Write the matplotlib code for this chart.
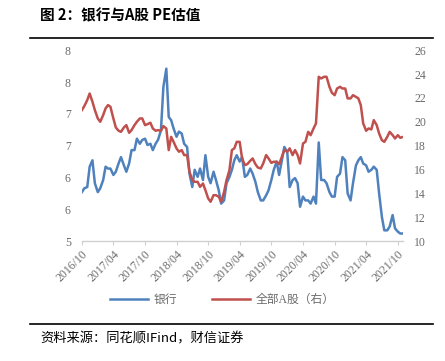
import matplotlib
matplotlib.use("Agg")
import matplotlib.pyplot as plt
import numpy as np
import pandas as pd

plt.rcParams['font.family'] = ['Noto Sans CJK SC', 'DejaVu Sans']

# semi-monthly readings, 2016/10 .. 2021/11
dates = pd.date_range('2016-10-01', periods=123, freq='SMS')

bank_pe = [
    5.77, 5.83, 5.85, 6.17, 6.27, 5.91, 5.77, 5.83, 5.96, 6.17,
    6.14, 6.14, 6.04, 6.09, 6.22, 6.32, 6.19, 6.09, 6.22, 6.43,
    6.43, 6.61, 6.53, 6.59, 6.61, 6.51, 6.53, 6.43, 6.53, 6.59,
    6.74, 7.42, 7.71, 6.95, 6.90, 6.77, 6.64, 6.72, 6.69, 6.53,
    6.48, 6.06, 5.85, 6.12, 6.01, 6.14, 5.96, 6.35, 6.01, 5.91,
    6.09, 5.96, 5.80, 5.59, 5.64, 5.91, 6.01, 6.12, 6.27, 6.35,
    6.25, 6.32, 6.01, 6.04, 6.14, 6.06, 5.93, 5.77, 5.64, 5.64,
    5.72, 5.80, 5.96, 6.12, 6.25, 6.04, 6.27, 6.48, 6.40, 5.85,
    5.96, 5.99, 5.91, 5.54, 5.70, 5.64, 5.64, 5.59, 5.70, 5.59,
    6.55, 5.96, 5.96, 5.91, 5.77, 5.70, 5.70, 6.01, 6.06, 6.32,
    6.27, 5.75, 5.64, 5.91, 6.19, 6.27, 6.32, 6.22, 6.19, 6.09,
    6.12, 6.17, 6.12, 5.75, 5.38, 5.17, 5.17, 5.23, 5.41, 5.20,
    5.15, 5.12, 5.12,
]

all_a_pe = [
    20.98, 21.31, 21.82, 22.37, 21.68, 20.98, 20.28, 20.00, 20.56, 21.12,
    21.40, 21.26, 20.28, 19.53, 19.25, 19.16, 19.53, 19.72, 19.08, 19.30,
    19.72, 20.00, 20.28, 20.28, 19.72, 19.80, 19.92, 19.44, 19.25, 19.30,
    19.25, 19.64, 19.44, 17.63, 18.74, 18.32, 17.77, 17.49, 17.63, 17.21,
    17.21, 15.81, 15.11, 14.97, 14.97, 14.55, 14.83, 14.27, 13.58, 13.30,
    13.85, 13.85, 13.72, 13.30, 14.13, 15.11, 15.95, 17.63, 17.77, 18.32,
    18.32, 16.93, 16.37, 16.45, 16.73, 16.93, 16.45, 16.17, 16.09, 16.51,
    17.21, 16.93, 16.56, 16.65, 16.65, 16.45, 17.07, 17.63, 17.49, 17.77,
    17.21, 17.63, 17.21, 16.51, 18.18, 18.32, 19.16, 18.88, 19.44, 19.86,
    23.77, 23.63, 23.77, 23.77, 22.93, 22.43, 22.23, 22.79, 22.93, 22.79,
    22.79, 21.96, 21.96, 22.23, 22.09, 21.96, 21.40, 19.86, 19.25, 19.44,
    19.36, 20.14, 19.72, 19.02, 18.46, 18.32, 18.74, 19.16, 18.88, 18.60,
    18.88, 18.66, 18.74,
]

left_ticks = [5, 5.5, 6, 6.5, 7, 7.5, 8]
left_labels = ['5', '6', '6', '7', '7', '8', '8']
right_ticks = [10, 12, 14, 16, 18, 20, 22, 24, 26]
x_ticks = pd.date_range('2016-10-01', '2021-10-01', freq='6MS')

blue = '#4f81bd'
red = '#c0504d'
grey = '#6b6b6b'
serif = 'Liberation Serif'

fig = plt.figure(figsize=(4.45, 3.61), dpi=100)
ax = fig.add_axes([0.184, 0.332, 0.722, 0.529])
ax2 = ax.twinx()

ax.plot(dates, bank_pe, color=blue, lw=1.8, label='银行')
ax2.plot(dates, all_a_pe, color=red, lw=1.8, label='全部A股（右）')

ax.set_xlim(pd.Timestamp('2016-10-01'), pd.Timestamp('2021-11-01'))
ax.set_ylim(5, 8)
ax2.set_ylim(10, 26)

ax.set_yticks(left_ticks)
ax.set_yticklabels(left_labels)
ax2.set_yticks(right_ticks)
ax.set_xticks(x_ticks)
ax.set_xticklabels([d.strftime('%Y/%m') for d in x_ticks])
ax.xaxis.set_minor_locator(plt.NullLocator())

for a in (ax, ax2):
    for s in ['top', 'left', 'right', 'bottom']:
        a.spines[s].set_visible(False)
ax.spines['bottom'].set_visible(True)
ax.spines['bottom'].set_color('#d0d0d0')
ax.spines['bottom'].set_linewidth(1.0)

ax.tick_params(axis='y', length=0, pad=8, labelsize=8.5, labelcolor=grey)
ax2.tick_params(axis='y', length=0, pad=8, labelsize=8.5, labelcolor=grey)
ax.tick_params(axis='x', length=3, color='#d0d0d0', labelsize=8.5,
               labelcolor=grey, pad=2)
for lab in ax.get_yticklabels() + ax2.get_yticklabels() + ax.get_xticklabels():
    lab.set_family(serif)
for lab in ax.get_xticklabels():
    lab.set_rotation(45)
    lab.set_ha('right')
    lab.set_va('top')
    lab.set_rotation_mode('anchor')

# legend below the axes
h1, l1 = ax.get_legend_handles_labels()
h2, l2 = ax2.get_legend_handles_labels()
leg = fig.legend(h1 + h2, l1 + l2, loc='center', bbox_to_anchor=(0.5, 0.168),
                 ncol=2, frameon=False, fontsize=8.5, handlelength=3.2,
                 columnspacing=3.0, handletextpad=0.5)
for t in leg.get_texts():
    t.set_color(grey)
    t.set_family([serif, 'Noto Sans CJK SC'])

# title and source with rules
fig.text(0.09, 0.957, '图 2：银行与A股 PE估值', fontsize=10.5, fontweight='bold',
         ha='left', va='center', family=['Noto Sans CJK SC', 'DejaVu Sans'])
fig.add_artist(plt.Line2D([0.067, 0.973], [0.895, 0.895], color='black', lw=1.2))
fig.add_artist(plt.Line2D([0.067, 0.973], [0.103, 0.103], color='black', lw=1.2))
fig.text(0.09, 0.062, '资料来源：同花顺IFind，财信证券', fontsize=9.5,
         style='italic', ha='left', va='center',
         family=['Noto Sans CJK SC', 'DejaVu Sans'])

fig.savefig('out.png', dpi=100)
